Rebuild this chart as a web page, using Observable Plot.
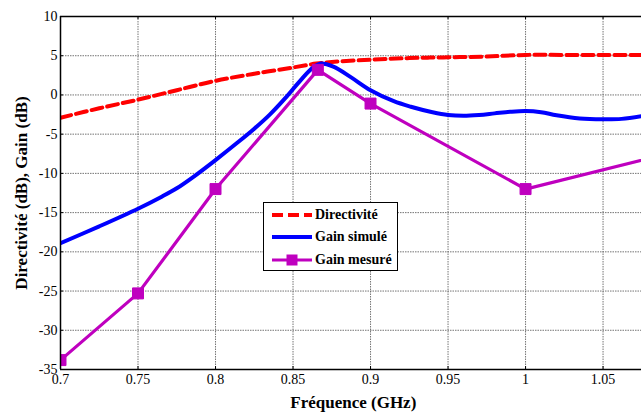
<!DOCTYPE html>
<html><head><meta charset="utf-8">
<script src="https://cdn.jsdelivr.net/npm/d3@7"></script>
<script src="https://cdn.jsdelivr.net/npm/@observablehq/plot@0.6"></script>
<style>
body{margin:0;background:#fff}
#wrap{position:relative;width:641px;height:414px;font-family:'Liberation Serif',serif}
#legend{position:absolute;left:263px;top:202px;width:135px;height:69px;border:1px solid #000;background:#fff;box-sizing:border-box}
.lrow{position:absolute;left:0;height:20px;width:133px}
.lrow svg{position:absolute;left:0;top:0}
.lrow span{position:absolute;left:51px;top:1px;font-family:'Liberation Serif',serif;font-weight:bold;font-size:14px;line-height:18px;white-space:nowrap}
</style>
</head><body><div id="wrap"></div>
<script>
// --- data ---
const dirFreq = [0.7,0.725,0.75,0.775,0.8,0.825,0.85,0.865,0.875,0.9,0.925,0.95,0.975,1.0,1.025,1.05,1.075];
const dirVals = [-2.9,-1.7,-0.6,0.6,1.8,2.7,3.5,4.0,4.2,4.5,4.7,4.8,4.9,5.1,5.1,5.1,5.1];

const simFreq = [0.7,0.725,0.75,0.765,0.775,0.786,0.8,0.814,0.825,0.835,0.845,0.855,0.863,0.868,0.876,0.887,0.9,0.915,0.926,0.94,0.95,0.96,0.97,0.98,0.99,1.0,1.01,1.02,1.035,1.05,1.062,1.075];
const simVals = [-18.9,-16.75,-14.5,-13.0,-11.9,-10.4,-8.3,-6.1,-4.3,-2.5,-0.4,1.9,3.5,4.0,3.6,2.3,0.6,-0.8,-1.5,-2.2,-2.55,-2.65,-2.55,-2.35,-2.15,-2.05,-2.2,-2.6,-3.0,-3.1,-3.05,-2.7];

const mesFreq = [0.7,0.75,0.8,0.866,0.9,1.0,1.1];
const mesVals = [-33.8,-25.3,-12.0,3.2,-1.1,-12.0,-7.1];

const xTicks = [0.7,0.75,0.8,0.85,0.9,0.95,1.0,1.05];
const xTickLabels = ["0.7","0.75","0.8","0.85","0.9","0.95","1","1.05"];
const yTicks = [-35,-30,-25,-20,-15,-10,-5,0,5,10];
const yTickLabels = ["-35","-30","-25","-20","-15","-10","-5","0","5","10"];

const seriesNames = ["Directivité","Gain simulé","Gain mesuré"];
const seriesColors = ["#ff0000","#0000ff","#bf00bf"];
const xLabel = "Fréquence (GHz)";
const yLabel = "Directivité (dB), Gain (dB)";

// --- build tables ---
const dir = dirFreq.map((f,i)=>({f, v: dirVals[i]}));
const sim = simFreq.map((f,i)=>({f, v: simVals[i]}));
const mes = mesFreq.map((f,i)=>({f, v: mesVals[i]}));

const FONT = "Liberation Serif";
const xDom = [0.7, 1.0748], yDom = [-35, 10];
const innerX = xTicks.filter(t => t > xDom[0]);
const innerY = yTicks.filter(t => t > yDom[0] && t < yDom[1]);
const tickDy = (yDom[1]-yDom[0]) * 3 / 353;
const tickDx = (xDom[1]-xDom[0]) * 3 / 581;

const chart = Plot.plot({
  width: 641, height: 414,
  marginLeft: 60, marginRight: 0, marginTop: 16, marginBottom: 45,
  x: {domain: xDom},
  y: {domain: yDom},
  style: {fontFamily: FONT, fontSize: "14px", color: "#000", background: "#fff", overflow: "visible"},
  marks: [
    Plot.gridX(innerX, {stroke: "#666", strokeOpacity: 0.9, strokeWidth: 1, strokeDasharray: "1.5,1"}),
    Plot.gridY(innerY, {stroke: "#666", strokeOpacity: 0.9, strokeWidth: 1, strokeDasharray: "1.5,1"}),
    // inward ticks
    Plot.ruleX(innerX, {y1: yDom[0], y2: yDom[0] + tickDy, stroke: "#000"}),
    Plot.ruleX(innerX, {y1: yDom[1], y2: yDom[1] - tickDy, stroke: "#000"}),
    Plot.ruleY(innerY, {x1: xDom[0], x2: xDom[0] + tickDx, stroke: "#000"}),
    // tick labels
    Plot.axisX(xTicks, {tickSize: 0, tickPadding: 5, fontSize: 14, fontFamily: FONT, label: null,
      tickFormat: d => xTickLabels[xTicks.indexOf(d)]}),
    Plot.axisY(yTicks, {tickSize: 0, tickPadding: 3, fontSize: 14, fontFamily: FONT, label: null,
      tickFormat: d => yTickLabels[yTicks.indexOf(d)]}),
    // axis titles
    Plot.text([xLabel], {frameAnchor: "bottom", dy: 33, dx: 2.3, fontWeight: "bold", fontSize: 17, fontFamily: FONT, lineAnchor: "middle", textAnchor: "middle"}),
    Plot.text([yLabel], {frameAnchor: "left", dx: -39, rotate: -90, fontWeight: "bold", fontSize: 17, fontFamily: FONT, lineAnchor: "middle", textAnchor: "middle"}),
    // series
    Plot.line(dir, {x: "f", y: "v", stroke: seriesColors[0], strokeWidth: 4, strokeDasharray: "11,5", curve: "catmull-rom", clip: true}),
    Plot.line(sim, {x: "f", y: "v", stroke: seriesColors[1], strokeWidth: 4, curve: "catmull-rom", clip: true}),
    Plot.line(mes, {x: "f", y: "v", stroke: seriesColors[2], strokeWidth: 3.2, clip: true}),
    Plot.dot(mes, {x: "f", y: "v", symbol: "square", r: 6.2, fill: seriesColors[2], stroke: seriesColors[2], strokeWidth: 1, clip: true}),
    // frame (no right border: chart is cut on the right)
    Plot.ruleY([yDom[1]], {stroke: "#000", strokeWidth: 1.5}),
    Plot.ruleY([yDom[0]], {stroke: "#000", strokeWidth: 1.5}),
    Plot.ruleX([xDom[0]], {stroke: "#000", strokeWidth: 1.5})
  ]
});

const wrap = document.getElementById("wrap");
wrap.appendChild(chart);

// legend box inside the axes (HTML text, small svg line samples)
const leg = document.createElement("div");
leg.id = "legend";
wrap.appendChild(leg);
seriesNames.forEach((name, i) => {
  const row = document.createElement("div");
  row.className = "lrow";
  row.style.top = (1.5 + i * 22.5) + "px";
  leg.appendChild(row);
  const s = d3.select(row).append("svg").attr("width", 50).attr("height", 20);
  const ln = s.append("line").attr("x1", 8).attr("x2", 48).attr("y1", 10).attr("y2", 10)
    .attr("stroke", seriesColors[i]).attr("stroke-width", i === 2 ? 3.2 : 4);
  if (i === 0) ln.attr("stroke-dasharray", "11,5");
  if (i === 2) s.append("rect").attr("x", 22.5).attr("y", 4.5).attr("width", 11).attr("height", 11)
    .attr("fill", seriesColors[2]);
  const sp = document.createElement("span");
  sp.textContent = name;
  row.appendChild(sp);
});
</script>
</body></html>
